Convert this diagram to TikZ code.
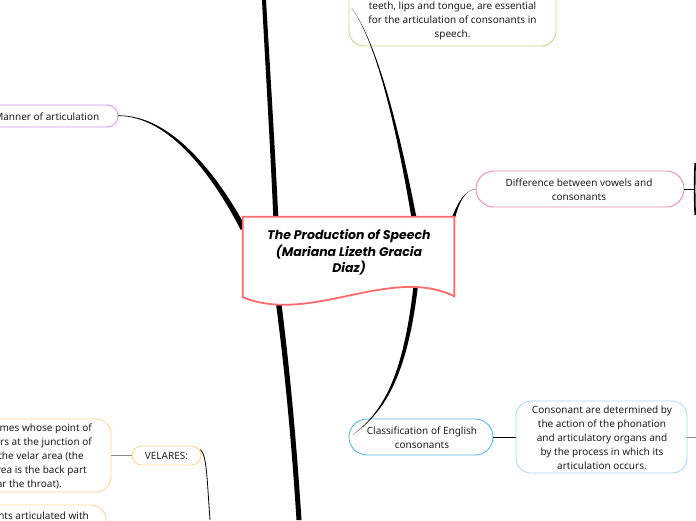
\documentclass[tikz,border=0pt]{standalone}
\usepackage{fontspec}
\setmainfont{Noto Sans}
\newfontfamily\titlefont{Poppins}
\usetikzlibrary{calc}
\definecolor{textc}{HTML}{1E1E1E}
\definecolor{cred}{HTML}{FF6B6B}
\definecolor{cgreen}{HTML}{B9DE7C}
\definecolor{cpurple}{HTML}{CF9AF7}
\definecolor{cpink}{HTML}{F08BB0}
\definecolor{cblue}{HTML}{58B8EE}
\definecolor{clblue}{HTML}{A9D9F3}
\definecolor{corange}{HTML}{FFD59C}
\definecolor{cgray}{HTML}{8A8A8A}
\tikzset{
  box/.style={draw=#1, line width=0.9pt, fill=white, inner sep=0pt},
  txt/.style={font=\fontsize{10}{14}\selectfont, text=textc, align=center, inner sep=0pt},
  thinline/.style={line width=1pt, draw=black},
  grayline/.style={line width=0.9pt, draw=cgray},
}
\begin{document}
\begin{tikzpicture}[x=1pt,y=-1pt]
\useasboundingbox (0,0) rectangle (696,520);
\fill[white] (0,0) rectangle (696,520);

% central node (placeholder for anchors)
\node[minimum width=211pt, minimum height=80pt, inner sep=0pt] (center) at (348.5,257) {};

% thick trunks
\coordinate (topend) at (264,0);
\coordinate (botend) at (299,520);
\fill ($(center.north west)+(30.5,0)$) .. controls (270,140) and (265,60) .. ($(topend)+(-2,0)$)
  -- ($(topend)+(2,0)$) .. controls (269.5,60) and (274.5,140) .. ($(center.north west)+(35.5,0)$) -- cycle;
\fill ($(center.south west)+(33,5)$) .. controls (286,380) and (292,450) .. ($(botend)+(-2.5,0)$)
  -- ($(botend)+(2.5,0)$) .. controls (297,450) and (291,380) .. ($(center.south west)+(38.5,5)$) -- cycle;

% green node
\node[box=cgreen, rounded corners=15pt, minimum width=207pt, minimum height=86pt] (green) at (452.5,3) {};
\node[txt] (greentext) at (452.5,21) {teeth, lips and tongue, are essential\\for the articulation of consonants in\\speech.};
\coordinate (greenend) at ($(green.west)+(3,5)$);
\fill ($(center.north west)+(168.5,0)$) .. controls (395,120) and (375,40) .. (greenend)
  .. controls (375.5,40) and (397.5,120) .. ($(center.north west)+(173.5,0)$) -- cycle;

% Manner of articulation
\node[box=cpurple, rounded corners=11pt, minimum width=148pt, minimum height=22pt] (manner) at (44,116) {};
\node[txt, anchor=east] (mannertext) at (99.5,116.5) {Manner of articulation};
\fill (manner.east) .. controls (170,116) and (214,178) .. ($(center.west)+(-2,-27)$)
  -- ($(center.west)+(3,-30)$) .. controls (218,176) and (172,115) .. ($(manner.east)+(0,-0.6)$) -- cycle;

% Difference between vowels and consonants
\node[box=cpink, rounded corners=18pt, minimum width=208pt, minimum height=36pt] (diff) at (580,189) {};
\node[txt] (difftext) at (579,189.5) {Difference between vowels and\\consonants};
\fill ($(center.north east)+(-2.5,1)$) .. controls (459,200) and (465,190) .. ($(diff.west)+(1,0)$)
  .. controls (466,189) and (460,200) .. ($(center.north east)+(0.8,1)$) -- cycle;
\coordinate (diffout) at (694.5,189);
\draw[thinline] (diff.east) -- (diffout);
\coordinate (diffa) at (695.2,163);
\coordinate (diffb) at (695.2,215);
\draw[line width=1.6pt] (diffa) .. controls (694.5,180) and (694.5,198) .. (diffb);

% Classification of English consonants
\node[box=cblue, rounded corners=18pt, minimum width=144pt, minimum height=36pt] (class) at (421,437) {};
\node[txt] (classtext) at (422,437.5) {Classification of English\\consonants};
\coordinate (classend) at ($(class.west)+(4,-2)$);
\fill ($(center.south east)+(-40.5,-13)$) .. controls (404,370) and (386,410) .. (classend)
  .. controls (388,410) and (408,370) .. ($(center.south east)+(-36,-13)$) -- cycle;

% Consonant are determined ...
\node[box=clblue, rounded corners=15pt, minimum width=171pt, minimum height=72pt] (cons) at (601.5,437) {};
\node[txt] (constext) at (602,437.5) {Consonant are determined by\\the action of the phonation\\and articulatory organs and\\by the process in which its\\articulation occurs.};
\draw[thinline] (class.east) -- (cons.west);
\coordinate (consout) at (696,437);
\draw[grayline] (cons.east) -- (consout);

% VELARES
\node[box=corange, rounded corners=9.5pt, minimum width=69pt, minimum height=19pt] (vel) at (166.5,455.5) {};
\node[txt] (veltext) at (166.5,455.5) {VELARES:};
\coordinate (velend) at (210,520);
\draw[line width=0.8pt] ($(vel.north east)+(-1,4)$) .. controls (207,456) and (207,480) .. (velend);

% left box (cut at the edge)
\node[box=corange, rounded corners=15pt, minimum width=141pt, minimum height=73pt] (left) at (40.5,455.5) {};
\draw[grayline] (left.east) -- (vel.west);
\node[txt, anchor=east] (l1) at (92,428.5) {mes whose point of};
\node[txt, anchor=east] (l2) at (92,442.5) {rs at the junction of};
\node[txt, anchor=east] (l3) at (84,456.5) {the velar area (the};
\node[txt, anchor=east] (l4) at (87,470.5) {rea is the back part};
\node[txt, anchor=east] (l5) at (62,484) {ar the throat).};

% bottom left box
\node[box=corange, rounded corners=15pt, minimum width=136pt, minimum height=60pt] (bottom) at (38,535) {};
\node[txt, anchor=east] (b1) at (89,515.5) {nts articulated with};

% central node drawing
\draw[draw=cred, line width=1.8pt, fill=white, line join=miter]
  (center.south west) -- (center.north west) -- (center.north east) -- ($(center.south east)+(0,-1)$)
  .. controls (390,265) and (310,325) .. (center.south west) -- cycle;
\node[font=\titlefont\bfseries\itshape\fontsize{12.5}{16.5}\selectfont, align=center, inner sep=0pt, text=black] (title) at (349,252.5)
  {The Production of Speech\\(Mariana Lizeth Gracia\\Diaz)};
\end{tikzpicture}
\end{document}
